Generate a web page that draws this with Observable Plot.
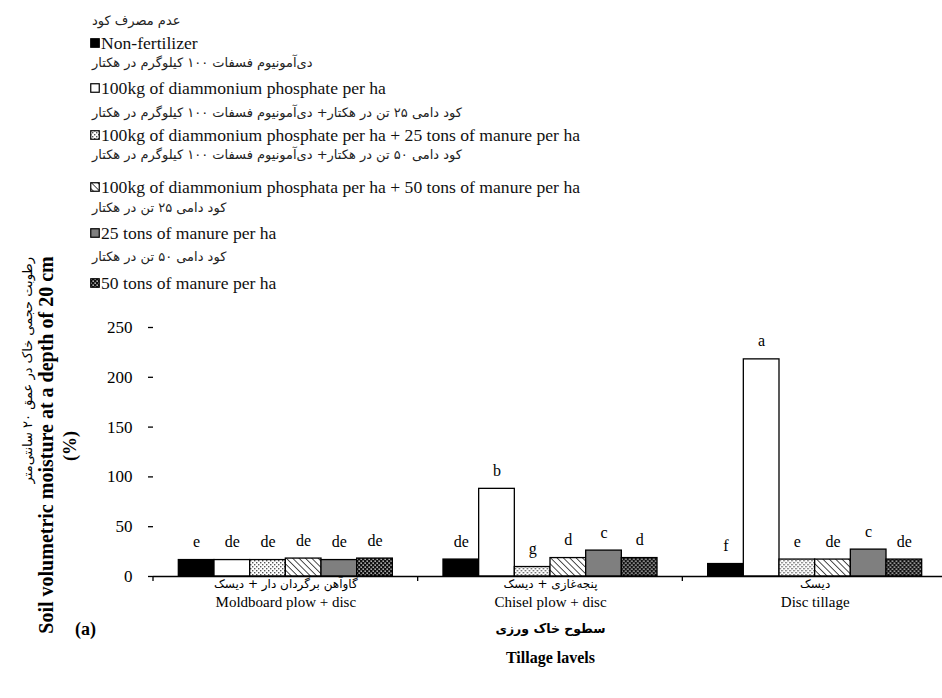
<!DOCTYPE html>
<html>
<head>
<meta charset="utf-8">
<script src="https://cdn.jsdelivr.net/npm/d3@7"></script>
<script src="https://cdn.jsdelivr.net/npm/@observablehq/plot@0.6"></script>
<style>
  body { margin: 0; background: #fff; width: 942px; height: 698px; overflow: hidden;
         font-family: "Liberation Serif", "Times New Roman", serif; color: #111; }
  #legend { position: relative; height: 298px; }
  .fa { position: absolute; left: 92px; font-family: "DejaVu Sans", sans-serif; font-size: 13px;
        direction: rtl; white-space: nowrap; line-height: 14px; color: #222; }
  .en { position: absolute; left: 90px; font-family: "Liberation Serif", "Times New Roman", serif;
        font-size: 17.6px; line-height: 20px; white-space: nowrap; display: flex; align-items: center; }
  .en svg { margin-right: 1px; }
</style>
</head>
<body>
<svg width="0" height="0" style="position:absolute">
  <defs>
    <pattern id="dots" width="4" height="4" patternUnits="userSpaceOnUse">
      <rect width="4" height="4" fill="#fff"/>
      <rect x="0" y="0" width="1.4" height="1.4" fill="#555"/>
      <rect x="2" y="2" width="1.4" height="1.4" fill="#555"/>
    </pattern>
    <pattern id="hatch" width="4.5" height="4.5" patternUnits="userSpaceOnUse" patternTransform="rotate(-45)">
      <rect width="4.5" height="4.5" fill="#fff"/>
      <line x1="0" y1="0" x2="0" y2="4.5" stroke="#222" stroke-width="1.6"/>
    </pattern>
    <pattern id="checker" width="4" height="4" patternUnits="userSpaceOnUse">
      <rect width="4" height="4" fill="#111"/>
      <rect x="0.5" y="0.5" width="1.3" height="1.3" fill="#fff"/>
      <rect x="2.5" y="2.5" width="1.3" height="1.3" fill="#fff"/>
    </pattern>
  </defs>
</svg>
<div id="legend"></div>
<div id="chart"></div>
<script>
// Tillage systems (x groups)
const tillage = ["Moldboard plow + disc", "Chisel plow + disc", "Disc tillage"];
const tillageFa = ["گاوآهن برگردان دار + دیسک", "پنجه‌غازی + دیسک", "دیسک"];

// Fertilizer treatments (bars within a group)
const treatments = [
  "Non-fertilizer",
  "100kg of diammonium phosphate per ha",
  "100kg of diammonium phosphate per ha + 25 tons of manure per ha",
  "100kg of diammonium phosphata per ha + 50 tons of manure per ha",
  "25 tons of manure per ha",
  "50 tons of manure per ha"
];
const treatmentsFa = [
  "عدم مصرف کود",
  "دی‌آمونیوم فسفات ۱۰۰ کیلوگرم در هکتار",
  "کود دامی ۲۵ تن در هکتار+ دی‌آمونیوم فسفات ۱۰۰ کیلوگرم در هکتار",
  "کود دامی ۵۰ تن در هکتار+ دی‌آمونیوم فسفات ۱۰۰ کیلوگرم در هکتار",
  "کود دامی ۲۵ تن در هکتار",
  "کود دامی ۵۰ تن در هکتار"
];

// Soil volumetric moisture at 20 cm (%), one array per tillage system
const moldboard = [16.5, 16.5, 16.5, 18, 16.5, 18];
const chisel    = [17, 88, 9.5, 18.5, 26, 18.5];
const disc      = [12.5, 218, 17, 17, 27, 17];

// Mean-separation letters
const lettersMoldboard = ["e", "de", "de", "de", "de", "de"];
const lettersChisel    = ["de", "b", "g", "d", "c", "d"];
const lettersDisc      = ["f", "a", "e", "de", "c", "de"];

const yTicks = [0, 50, 100, 150, 200, 250];

// Bar fills: solid colours and the hatch patterns defined above
const fills = ["#000000", "#ffffff", "url(#dots)", "url(#hatch)", "#7f7f7f", "url(#checker)"];

// Legend row placement (vertical centres, px)
const faRowCenter = [21, 63, 113, 155, 208, 257];
const enRowCenter = [43, 88, 135, 187, 233, 283];

const values = [moldboard, chisel, disc];
const letters = [lettersMoldboard, lettersChisel, lettersDisc];
const data = tillage.flatMap((t, gi) => treatments.map((tr, ti) => ({
  tillage: t, treatment: tr, value: values[gi][ti], letter: letters[gi][ti]
})));

// Legend
const legend = document.getElementById("legend");
treatments.forEach((t, i) => {
  const fa = document.createElement("div");
  fa.className = "fa";
  fa.textContent = treatmentsFa[i];
  fa.style.top = (faRowCenter[i] - 7) + "px";
  legend.append(fa);
  const en = document.createElement("div");
  en.className = "en";
  en.style.top = (enRowCenter[i] - 10) + "px";
  en.innerHTML = `<svg width="10" height="10"><rect x="0.75" y="0.75" width="8.5" height="8.5" fill="${fills[i]}" stroke="#000" stroke-width="1.2"/></svg>`;
  en.append(document.createTextNode(t));
  legend.append(en);
});

const serif = "Liberation Serif, Times New Roman, serif";

// Small downward ticks on the x axis at each group boundary
function boundaryTicks(index, scales, values, dimensions) {
  const ns = "http://www.w3.org/2000/svg";
  const g = document.createElementNS(ns, "g");
  const y0 = scales.y(0);
  const line = document.createElementNS(ns, "line");
  line.setAttribute("x1", dimensions.marginLeft);
  line.setAttribute("x2", dimensions.marginLeft);
  line.setAttribute("y1", y0);
  line.setAttribute("y2", y0 + 5);
  line.setAttribute("stroke", "#000");
  line.setAttribute("stroke-width", 1.3);
  g.append(line);
  return g;
}

const chart = Plot.plot({
  width: 942,
  height: 400,
  marginTop: 29,
  marginBottom: 122,
  marginLeft: 153,
  marginRight: -5,
  style: { fontFamily: serif, background: "white", color: "#000", overflow: "visible" },
  fx: { domain: tillage, padding: 0, round: false },
  x: { domain: treatments, paddingInner: 0, paddingOuter: 0.71, round: false, axis: null },
  y: { domain: [0, 250] },
  color: { domain: treatments, range: fills },
  marks: [
    Plot.barY(data, { fx: "tillage", x: "treatment", y: "value", fill: "treatment", stroke: "#000", strokeWidth: 1.3 }),
    Plot.text(data, { fx: "tillage", x: "treatment", y: "value", text: "letter", dy: -18, fontSize: 16, fontFamily: serif }),
    Plot.ruleY([0], { stroke: "#000", strokeWidth: 1.3 }),
    boundaryTicks,
    Plot.axisY({ ticks: yTicks, tickSize: 5, tickPadding: 16, line: true, label: null, fontSize: 17, fontFamily: serif, strokeWidth: 1.3 }),
    Plot.axisFx({ anchor: "bottom", tickSize: 0, tickPadding: 3, label: null,
      tickFormat: d => tillageFa[tillage.indexOf(d)], fontFamily: "DejaVu Sans", fontSize: 12 }),
    Plot.axisFx({ anchor: "bottom", tickSize: 0, tickPadding: 20, label: null, fontFamily: serif, fontSize: 15 }),
    // y-axis title (Persian, English, unit)
    Plot.text([tillage[0]], { fx: d => d, frameAnchor: "left", rotate: -90, textAnchor: "end",
      text: () => "رطوبت حجمی خاک در عمق ۲۰ سانتی‌متر", dx: -126, dy: -195, fontFamily: "DejaVu Sans", fontSize: 13 }),
    Plot.text([tillage[0]], { fx: d => d, frameAnchor: "left", rotate: -90, textAnchor: "middle",
      text: () => "Soil volumetric moisture at a depth of 20 cm", dx: -107, dy: -7, fontWeight: "bold", fontSize: 20, fontFamily: serif }),
    Plot.text([tillage[0]], { fx: d => d, frameAnchor: "left", rotate: -90, textAnchor: "middle",
      text: () => "(%)", dx: -83, dy: -6, fontWeight: "bold", fontSize: 18, fontFamily: serif }),
    // x-axis title and panel tag
    Plot.text([tillage[1]], { fx: d => d, frameAnchor: "bottom", text: () => "سطوح خاک ورزی",
      dy: 56, fontFamily: "DejaVu Sans", fontWeight: "bold", fontSize: 12.5 }),
    Plot.text([tillage[1]], { fx: d => d, frameAnchor: "bottom", text: () => "Tillage lavels",
      dy: 86, fontFamily: serif, fontWeight: "bold", fontSize: 16 }),
    Plot.text([tillage[0]], { fx: d => d, frameAnchor: "bottom-left", textAnchor: "middle", text: () => "(a)",
      dx: -68, dy: 58, fontFamily: serif, fontWeight: "bold", fontSize: 18 })
  ]
});
document.getElementById("chart").append(chart);
</script>
</body>
</html>
